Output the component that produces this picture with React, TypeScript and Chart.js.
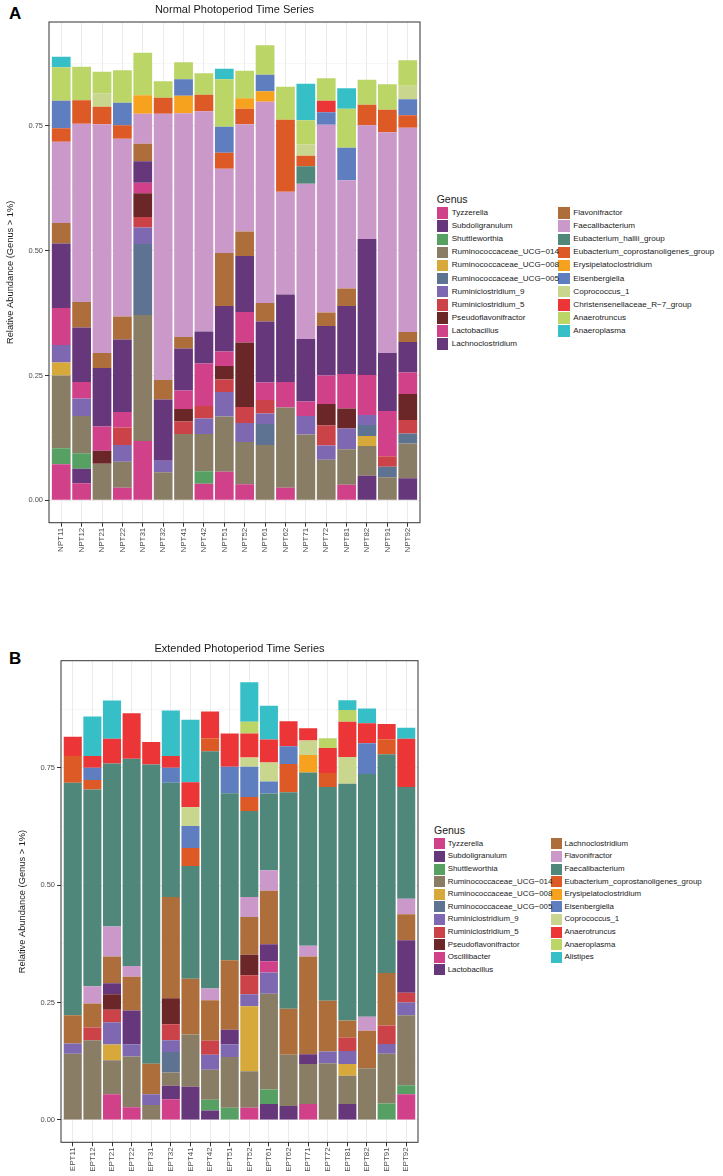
import React, { useEffect, useRef } from 'react';
import { Chart, registerables } from 'chart.js';

Chart.register(...registerables);

const FONT = '"Liberation Sans", Arial, Helvetica, sans-serif';
Chart.defaults.font.family = FONT;

// ---------- categories ----------
const samplesA = ['NPT11','NPT12','NPT21','NPT22','NPT31','NPT32','NPT41','NPT42','NPT51','NPT52','NPT61','NPT62','NPT71','NPT72','NPT81','NPT82','NPT91','NPT92'];
const samplesB = ['EPT11','EPT12','EPT21','EPT22','EPT31','EPT32','EPT41','EPT42','EPT51','EPT52','EPT61','EPT62','EPT71','EPT72','EPT81','EPT82','EPT91','EPT92'];

const yTickValues = [0, 0.125, 0.25, 0.375, 0.5, 0.625, 0.75, 0.875];

const genusA = ['Tyzzerella','Subdoligranulum','Shuttleworthia','Ruminococcaceae_UCG\u2212014','Ruminococcaceae_UCG\u2212008','Ruminococcaceae_UCG\u2212005','Ruminiclostridium_9','Ruminiclostridium_5','Pseudoflavonifractor','Lactobacillus','Lachnoclostridium','Flavonifractor','Faecalibacterium','Eubacterium_hallii_group','Eubacterium_coprostanoligenes_group','Erysipelatoclostridium','Eisenbergiella','Coprococcus_1','Christensenellaceae_R\u22127_group','Anaerotruncus','Anaeroplasma'];
const genusB = ['Tyzzerella','Subdoligranulum','Shuttleworthia','Ruminococcaceae_UCG\u2212014','Ruminococcaceae_UCG\u2212008','Ruminococcaceae_UCG\u2212005','Ruminiclostridium_9','Ruminiclostridium_5','Pseudoflavonifractor','Oscillibacter','Lactobacillus','Lachnoclostridium','Flavonifractor','Faecalibacterium','Eubacterium_coprostanoligenes_group','Erysipelatoclostridium','Eisenbergiella','Coprococcus_1','Anaerotruncus','Anaeroplasma','Alistipes'];

const palette = ['#D0418A','#66377A','#55A062','#8A7D66','#D6A93A','#5D7391','#7D68B1','#CC4249','#6B2627','#D0418A','#66377A','#AE6E3B','#CB99C9','#4F877A','#DD5926','#F6A21E','#5E7EC0','#C9D68E','#EB3536','#BBD566','#36BFC7'];

// ---------- Normal photoperiod (A) ----------
const A_Tyzzerella = [0.072,0.034,0,0.025,0.119,0,0,0.033,0.057,0.032,0,0.025,0,0,0.031,0,0,0];
const A_Subdoligranulum = [0,0.029,0,0,0,0,0,0,0,0,0,0,0,0,0,0.049,0,0.044];
const A_Shuttleworthia = [0.032,0.031,0,0,0,0,0,0.025,0,0,0,0,0,0,0,0,0,0];
const A_UCG014 = [0.146,0.075,0.073,0.052,0.252,0.056,0.133,0.075,0.111,0.085,0.111,0.161,0.132,0.081,0.071,0.060,0.046,0.070];
const A_UCG008 = [0.026,0,0,0,0,0,0,0,0,0,0,0,0,0,0,0.020,0,0];
const A_UCG005 = [0,0,0,0,0.142,0,0,0,0,0,0.042,0,0,0,0,0.022,0.021,0.020];
const A_Rum9 = [0.035,0.035,0,0.034,0.033,0.023,0,0.031,0.049,0.038,0.021,0,0.037,0.029,0.042,0.020,0,0];
const A_Rum5 = [0,0,0,0.035,0.021,0,0.025,0.025,0.025,0.032,0.027,0,0,0.040,0,0,0.021,0.027];
const A_Pseudoflavonifractor = [0,0,0.026,0,0.048,0,0.025,0,0.027,0.129,0,0,0,0.043,0.040,0,0,0.052];
const A_Lactobacillus = [0.074,0.033,0.049,0.031,0.021,0,0.037,0.085,0.029,0.061,0.035,0.051,0.029,0.057,0.069,0.080,0.091,0.043];
const A_Lachnoclostridium = [0.129,0.109,0.117,0.145,0.043,0.123,0.084,0.064,0.091,0.112,0.122,0.175,0.125,0.099,0.136,0.272,0.116,0.061];
const A_Flavonifractor = [0.041,0.051,0.030,0.046,0.035,0.039,0.023,0,0.106,0.049,0.037,0,0,0.027,0.035,0,0,0.020];
const A_Faecalibacterium = [0.163,0.357,0.458,0.356,0.060,0.533,0.448,0.441,0.169,0.215,0.403,0.206,0.311,0.376,0.217,0.228,0.442,0.409];
const A_Ehallii = [0,0,0,0,0,0,0,0,0,0,0,0,0.035,0,0,0,0,0];
const A_Ecopro = [0.027,0.047,0.035,0.027,0,0.032,0,0.033,0.032,0.031,0,0.144,0.021,0,0,0.041,0.045,0.025];
const A_Erysipelatoclostridium = [0,0,0,0,0.037,0,0.035,0,0,0.021,0.021,0,0,0,0,0,0,0];
const A_Eisenbergiella = [0.055,0,0,0.045,0,0,0.033,0,0.052,0,0.033,0,0,0.025,0.065,0,0,0.032];
const A_Coprococcus = [0,0,0.027,0,0,0,0,0,0,0,0,0,0.023,0,0,0,0,0.027];
const A_Christensenellaceae = [0,0,0,0,0,0,0,0,0,0,0,0,0,0.023,0,0,0,0];
const A_Anaerotruncus = [0.067,0.067,0.043,0.065,0.085,0.033,0.034,0.043,0.095,0.055,0.059,0.066,0.048,0.045,0.078,0.050,0.051,0.051];
const A_Anaeroplasma = [0.021,0,0,0,0,0,0,0,0.021,0,0,0,0.073,0,0.041,0,0,0];

// ---------- Extended photoperiod (B) ----------
const B_Tyzzerella = [0,0,0.055,0.027,0,0.044,0,0,0,0.026,0,0,0.034,0,0,0,0,0.055];
const B_Subdoligranulum = [0,0,0,0,0,0.029,0.071,0.020,0,0,0.034,0.030,0,0,0.034,0,0,0];
const B_Shuttleworthia = [0,0,0,0,0,0,0,0.023,0.026,0,0.031,0,0,0,0,0,0.035,0.019];
const B_UCG014 = [0.141,0.170,0.072,0.108,0.032,0.028,0.111,0.064,0.108,0.078,0.204,0.109,0.085,0.121,0.060,0.110,0.106,0.149];
const B_UCG008 = [0,0,0.034,0,0,0,0,0,0,0.138,0,0,0,0,0.025,0,0,0];
const B_UCG005 = [0,0,0,0,0,0.044,0,0,0,0,0,0,0,0,0,0,0,0];
const B_Rum9 = [0.022,0,0.047,0.026,0.023,0.025,0,0.032,0.027,0.026,0.045,0,0,0.025,0.028,0,0.021,0.027];
const B_Rum5 = [0,0.027,0.027,0,0,0.034,0,0.030,0,0.040,0,0,0,0,0.028,0,0.039,0.021];
const B_Pseudoflavonifractor = [0,0,0.033,0,0,0.055,0,0,0,0.044,0,0,0,0,0,0,0,0];
const B_Oscillibacter = [0,0,0,0,0,0,0,0,0,0,0.024,0,0,0,0,0,0,0];
const B_Lactobacillus = [0,0,0.023,0.072,0,0,0,0,0.031,0,0.036,0,0.021,0,0,0,0,0.112];
const B_Lachnoclostridium = [0.060,0.051,0.057,0.072,0.065,0.216,0.119,0.086,0.148,0.080,0.114,0.098,0.208,0.108,0.037,0.080,0.112,0.055];
const B_Flavonifractor = [0,0.037,0.064,0.023,0,0,0,0.025,0,0.043,0.044,0,0.023,0,0,0.030,0,0.033];
const B_Faecalibacterium = [0.495,0.419,0.347,0.441,0.637,0.243,0.240,0.505,0.356,0.183,0.163,0.461,0.369,0.455,0.504,0.517,0.466,0.238];
const B_Ecopro = [0.057,0.020,0,0,0,0,0.038,0.028,0,0.030,0,0.060,0,0.030,0,0,0.032,0];
const B_Erysipelatoclostridium = [0,0,0,0,0,0,0,0,0,0,0,0,0.037,0,0,0,0,0];
const B_Eisenbergiella = [0,0.026,0,0,0,0.032,0.047,0,0.056,0.064,0.026,0.038,0,0,0,0.065,0,0];
const B_Coprococcus = [0,0,0,0,0,0,0.040,0,0,0.020,0.040,0,0.031,0,0.057,0,0,0];
const B_Anaerotruncus = [0.041,0.025,0.053,0.097,0.048,0.025,0.053,0.057,0.071,0.051,0.049,0.053,0.026,0.053,0.075,0.043,0.032,0.103];
const B_Anaeroplasma = [0,0,0,0,0,0,0,0,0,0.025,0,0,0,0.021,0.025,0,0,0];
const B_Alistipes = [0,0.084,0.081,0,0,0.097,0.133,0,0,0.084,0.072,0,0,0,0.021,0.031,0,0.023];

const seriesA = [A_Tyzzerella,A_Subdoligranulum,A_Shuttleworthia,A_UCG014,A_UCG008,A_UCG005,A_Rum9,A_Rum5,A_Pseudoflavonifractor,A_Lactobacillus,A_Lachnoclostridium,A_Flavonifractor,A_Faecalibacterium,A_Ehallii,A_Ecopro,A_Erysipelatoclostridium,A_Eisenbergiella,A_Coprococcus,A_Christensenellaceae,A_Anaerotruncus,A_Anaeroplasma];
const seriesB = [B_Tyzzerella,B_Subdoligranulum,B_Shuttleworthia,B_UCG014,B_UCG008,B_UCG005,B_Rum9,B_Rum5,B_Pseudoflavonifractor,B_Oscillibacter,B_Lactobacillus,B_Lachnoclostridium,B_Flavonifractor,B_Faecalibacterium,B_Ecopro,B_Erysipelatoclostridium,B_Eisenbergiella,B_Coprococcus,B_Anaerotruncus,B_Anaeroplasma,B_Alistipes];

const isMajor = (v: number) => Math.abs(v / 0.25 - Math.round(v / 0.25)) < 1e-6;

const panelBorder = {
  id: 'panelBorder',
  afterDatasetsDraw(chart: any) {
    const { ctx, chartArea: a } = chart;
    ctx.save();
    ctx.strokeStyle = '#333333';
    ctx.lineWidth = 1;
    ctx.strokeRect(a.left, a.top, a.right - a.left, a.bottom - a.top);
    ctx.restore();
  },
};

type PanelCfg = {
  top: number;
  width: number;
  height: number;
  title: string;
  samples: string[];
  genus: string[];
  series: number[][];
  yMin: number;
  yMax: number;
  yWidth: number;
  xHeight: number;
  padRight: number;
  titlePadTop: number;
  titlePadBottom: number;
  yTitlePad: number;
};

function Panel({ cfg }: { cfg: PanelCfg }) {
  const ref = useRef<HTMLCanvasElement>(null);
  useEffect(() => {
    if (!ref.current) return;
    const datasets = cfg.series.map((vals, gi) => ({
      label: cfg.genus[gi],
      data: vals.map((v, i) => ({ x: i, y: v })),
      backgroundColor: palette[gi],
      borderWidth: 0,
      barPercentage: 0.92,
      categoryPercentage: 1,
    }));
    const n = cfg.samples.length;
    const chart = new Chart(ref.current, {
      type: 'bar',
      data: { datasets },
      options: {
        animation: false,
        responsive: false,
        devicePixelRatio: 1,
        layout: { padding: { left: 0, right: cfg.padRight, top: 0, bottom: 0 } },
        plugins: {
          legend: { display: false },
          tooltip: { enabled: false },
          title: {
            display: true,
            text: cfg.title,
            fullSize: false,
            color: '#1A1A1A',
            font: { size: 11, weight: 'normal', family: FONT, lineHeight: 1.2 },
            padding: { top: cfg.titlePadTop, bottom: cfg.titlePadBottom },
          },
        },
        scales: {
          x: {
            type: 'linear',
            stacked: true,
            min: -0.6,
            max: n - 1 + 0.6,
            offset: false,
            afterBuildTicks: (s: any) => {
              s.ticks = cfg.samples.map((_, i) => ({ value: i }));
            },
            afterFit: (s: any) => {
              s.height = cfg.xHeight;
            },
            grid: {
              color: '#EBEBEB',
              lineWidth: 1,
              tickColor: '#333333',
              tickLength: 4,
              offset: false,
            },
            border: { display: false },
            ticks: {
              autoSkip: false,
              minRotation: 90,
              maxRotation: 90,
              padding: 1,
              color: '#4D4D4D',
              font: { size: 8, family: FONT },
              callback: (v: any) => cfg.samples[Number(v)] ?? '',
            },
          },
          y: {
            type: 'linear',
            stacked: true,
            min: cfg.yMin,
            max: cfg.yMax,
            afterBuildTicks: (s: any) => {
              s.ticks = yTickValues.map((v) => ({ value: v }));
            },
            afterFit: (s: any) => {
              s.width = cfg.yWidth;
            },
            grid: {
              color: (c: any) => (c.tick && isMajor(c.tick.value) ? '#EBEBEB' : '#F2F2F2'),
              lineWidth: (c: any) => (c.tick && isMajor(c.tick.value) ? 1 : 0.6),
              tickColor: (c: any) => (c.tick && isMajor(c.tick.value) ? '#333333' : 'rgba(0,0,0,0)'),
              tickLength: 4,
            },
            border: { display: false },
            ticks: {
              autoSkip: false,
              padding: 2,
              color: '#4D4D4D',
              font: { size: 7.5, family: FONT },
              callback: (v: any) => (isMajor(Number(v)) ? Number(v).toFixed(2) : ''),
            },
            title: {
              display: true,
              text: 'Relative Abundance (Genus > 1%)',
              color: '#1A1A1A',
              font: { size: 9.3, family: FONT, lineHeight: 1.2 },
              padding: { top: cfg.yTitlePad, bottom: 0 },
            },
          },
        },
      },
      plugins: [panelBorder],
    } as any);
    return () => chart.destroy();
  }, [cfg]);
  return (
    <canvas
      ref={ref}
      width={cfg.width}
      height={cfg.height}
      style={{ position: 'absolute', left: 0, top: cfg.top, width: cfg.width, height: cfg.height }}
    />
  );
}

type LegendCfg = {
  left: number;
  titleY: number;
  firstTop: number;
  row: number;
  box: number;
  textGap: number;
  col2: number;
  fontSize: number;
  genus: string[];
};

function Legend({ cfg }: { cfg: LegendCfg }) {
  const perCol = Math.ceil(cfg.genus.length / 2);
  return (
    <>
      <div
        style={{
          position: 'absolute',
          left: cfg.left,
          top: cfg.titleY - 7,
          height: 14,
          lineHeight: '14px',
          fontSize: 10.5,
          fontFamily: FONT,
          color: '#1A1A1A',
          whiteSpace: 'nowrap',
        }}
      >
        Genus
      </div>
      {cfg.genus.map((g, i) => {
        const col = i < perCol ? 0 : 1;
        const r = col === 0 ? i : i - perCol;
        const x = col === 0 ? cfg.left : cfg.col2;
        const y = cfg.firstTop + r * cfg.row;
        return (
          <div
            key={'box' + i}
            style={{
              position: 'absolute',
              left: x,
              top: y,
              width: cfg.box,
              height: cfg.box,
              background: palette[i],
              zIndex: 1,
            }}
          />
        );
      })}
      {cfg.genus.map((g, i) => {
        const col = i < perCol ? 0 : 1;
        const r = col === 0 ? i : i - perCol;
        const x = col === 0 ? cfg.left : cfg.col2;
        const y = cfg.firstTop + r * cfg.row;
        return (
          <div
            key={'txt' + i}
            style={{
              position: 'absolute',
              left: x + cfg.box + cfg.textGap,
              top: y + cfg.box / 2 - 7,
              height: 14,
              lineHeight: '14px',
              fontSize: cfg.fontSize,
              fontFamily: FONT,
              color: '#1A1A1A',
              whiteSpace: 'nowrap',
              zIndex: 2,
            }}
          >
            {g}
          </div>
        );
      })}
    </>
  );
}

const cfgA: PanelCfg = {
  top: 0,
  width: 430,
  height: 560,
  title: 'Normal Photoperiod Time Series',
  samples: samplesA,
  genus: genusA,
  series: seriesA,
  yMin: -0.0448,
  yMax: 0.9576,
  yWidth: 49,
  xHeight: 37.3,
  padRight: 10,
  titlePadTop: 3.5,
  titlePadBottom: 5.3,
  yTitlePad: 4.4,
};

const cfgB: PanelCfg = {
  top: 636,
  width: 430,
  height: 540,
  title: 'Extended Photoperiod Time Series',
  samples: samplesB,
  genus: genusB,
  series: seriesB,
  yMin: -0.0475,
  yMax: 0.978,
  yWidth: 61,
  xHeight: 33.7,
  padRight: 12,
  titlePadTop: 6.7,
  titlePadBottom: 4.8,
  yTitlePad: 16.4,
};

const legA: LegendCfg = {
  left: 436.7,
  titleY: 199,
  firstTop: 207.3,
  row: 13.1,
  box: 11.5,
  textGap: 3.5,
  col2: 558.3,
  fontSize: 8.1,
  genus: genusA,
};

const legB: LegendCfg = {
  left: 434,
  titleY: 830,
  firstTop: 838.3,
  row: 12.6,
  box: 11,
  textGap: 2.7,
  col2: 550.7,
  fontSize: 7.9,
  genus: genusB,
};

export default function App() {
  return (
    <div style={{ position: 'fixed', left: 0, top: 0, width: 723, height: 1176, background: '#FFFFFF', overflow: 'hidden' }}>
      <div style={{ position: 'absolute', left: 9, top: 4, fontSize: 17, fontWeight: 'bold', fontFamily: FONT, color: '#000' }}>A</div>
      <div style={{ position: 'absolute', left: 9, top: 649, fontSize: 17, fontWeight: 'bold', fontFamily: FONT, color: '#000' }}>B</div>
      <Panel cfg={cfgA} />
      <Panel cfg={cfgB} />
      <Legend cfg={legA} />
      <Legend cfg={legB} />
    </div>
  );
}
